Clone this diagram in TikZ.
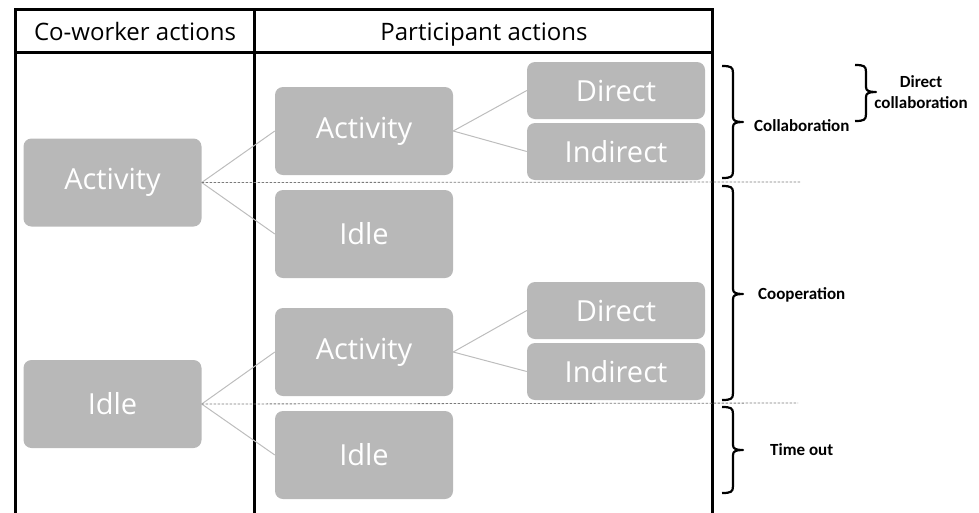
\documentclass[tikz,border=0pt]{standalone}
\usepackage{fontspec}
\setmainfont{Open Sans}
\newfontfamily\labfont{Carlito}
\definecolor{boxgray}{HTML}{B8B8B8}
\definecolor{linkgray}{HTML}{BDBDBD}
\definecolor{dashgray}{HTML}{7A7A7A}
\newcommand{\sidebrace}[4]{% x0, ytop, ybottom, ymid
  \draw[bracestyle] (#1,#2) .. controls (#1+9,#2) and (#1+11,#2+1) .. (#1+11,#2+7)
    -- (#1+11,#4-5) .. controls (#1+11,#4-1) and (#1+14,#4) .. (#1+21,#4)
    .. controls (#1+14,#4) and (#1+11,#4+1) .. (#1+11,#4+5)
    -- (#1+11,#3-7) .. controls (#1+11,#3-1) and (#1+9,#3) .. (#1,#3);}
\begin{document}
\begin{tikzpicture}[x=1pt,y=-1pt,
  gbox/.style={draw=none,fill=boxgray,rounded corners=8pt,text=white,
    font=\fontsize{29}{32}\selectfont,inner sep=0pt},
  bigbox/.style={gbox,minimum width=178pt,minimum height=88pt},
  smallbox/.style={gbox,minimum width=178pt,minimum height=57pt},
  link/.style={draw=linkgray,line width=1pt},
  sep/.style={draw=dashgray,line width=0.8pt,dash pattern=on 2.5pt off 1.5pt},
  tableline/.style={line width=3pt,black},
  bracestyle/.style={line width=2.2pt,black,line join=round},
  head/.style={font=\fontsize{24}{28}\selectfont,inner sep=0pt,anchor=base},
  lab/.style={font=\labfont\bfseries\fontsize{17}{21}\selectfont,inner sep=0pt}]
\useasboundingbox (0,0) rectangle (979,512);
% table
\draw[tableline] (15,515) -- (15,9) -- (712,9) -- (712,515);
\draw[tableline] (15,52) -- (712,52);
\draw[tableline] (254,9) -- (254,515);
\node[head] (h1) at (135,40) {Co-worker actions};
\node[head] (h2) at (484,40) {Participant actions};
% boxes
\node[bigbox] (cact) at (112.5,182.5) {Activity};
\node[bigbox] (cidle) at (112.5,404) {Idle};
\node[bigbox] (pa1) at (364,131) {Activity};
\node[bigbox] (pi1) at (364,234) {Idle};
\node[bigbox] (pa2) at (364,352) {Activity};
\node[bigbox] (pi2) at (364,455) {Idle};
\node[smallbox] (d1) at (616,90.5) {Direct};
\node[smallbox] (i1) at (616,151.5) {Indirect};
\node[smallbox] (d2) at (616,310.5) {Direct};
\node[smallbox] (i2) at (616,371.5) {Indirect};
% links
\draw[link] (cact.east) -- (pa1.west);
\draw[link] (cact.east) -- (pi1.west);
\draw[link] (cidle.east) -- (pa2.west);
\draw[link] (cidle.east) -- (pi2.west);
\draw[link] (pa1.east) -- (d1.west);
\draw[link] (pa1.east) -- (i1.west);
\draw[link] (pa2.east) -- (d2.west);
\draw[link] (pa2.east) -- (i2.west);
% separators
\coordinate (s1) at (800,182);
\coordinate (s2) at (798,403);
\draw[sep] (cact.east) -- (s1);
\draw[sep] (cidle.east) -- (s2);
% braces
\sidebrace{722}{66}{178}{122}
\sidebrace{722}{186}{400}{294}
\sidebrace{722}{407}{493}{450}
\sidebrace{855}{65}{121}{92}
\node[lab,anchor=west] (lcol) at (754,126) {Collaboration};
\node[lab,anchor=west] (lcoop) at (758,295) {Cooperation};
\node[lab,anchor=west] (lto) at (770,450) {Time out};
\node[lab,align=center] (ldc) at (921,92) {Direct\\collaboration};
\end{tikzpicture}
\end{document}
